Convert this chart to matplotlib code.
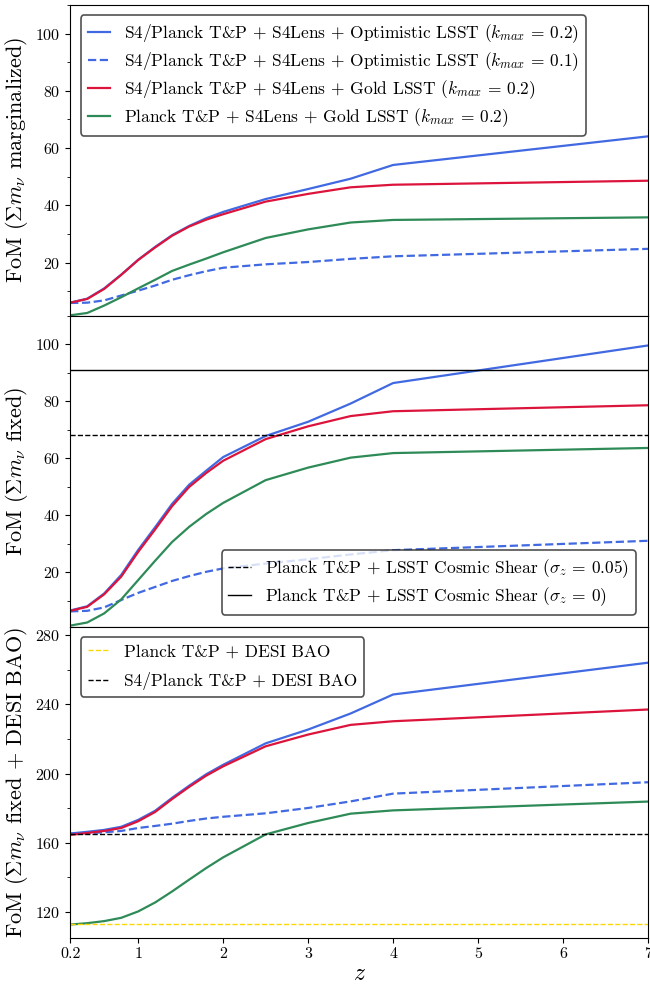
import numpy as np
import matplotlib
matplotlib.use("Agg")
import matplotlib.pyplot as plt
from matplotlib.ticker import AutoMinorLocator

plt.rcParams['font.family'] = 'serif'
plt.rcParams['font.serif'] = ['cmr10']
plt.rcParams['mathtext.fontset'] = 'cm'
plt.rcParams['axes.formatter.use_mathtext'] = True
plt.rcParams['axes.unicode_minus'] = False

z = [0.2, 0.4, 0.6, 0.8, 1.0, 1.2, 1.4, 1.6, 1.8, 2.0, 2.5, 3.0, 3.5, 4.0, 7.0]

# FoM, sum m_nu marginalized
marg_opt02 = [6.0, 7.4, 11.0, 15.8, 21.0, 25.5, 29.6, 32.8, 35.5, 37.7, 42.2, 45.7, 49.3, 54.1, 64.1]
marg_opt01 = [5.9, 6.0, 6.8, 8.5, 10.2, 12.0, 14.0, 15.6, 17.0, 18.2, 19.4, 20.2, 21.3, 22.2, 24.8]
marg_gold = [6.0, 7.3, 10.8, 15.7, 20.9, 25.3, 29.4, 32.6, 35.0, 36.9, 41.3, 44.0, 46.3, 47.2, 48.6]
marg_planck = [1.6, 2.4, 5.0, 7.9, 11.0, 14.0, 17.1, 19.3, 21.4, 23.6, 28.6, 31.6, 34.0, 34.9, 35.8]

# FoM, sum m_nu fixed
fix_opt02 = [6.5, 8.0, 12.5, 19.0, 27.8, 35.8, 44.0, 50.7, 55.6, 60.4, 67.8, 72.8, 79.2, 86.4, 99.6]
fix_opt01 = [6.2, 6.4, 7.6, 10.2, 12.7, 14.8, 16.9, 18.6, 20.1, 21.3, 23.0, 24.5, 26.2, 27.7, 31.0]
fix_gold = [6.4, 7.8, 12.2, 18.4, 27.1, 35.0, 43.2, 49.9, 54.8, 59.1, 66.7, 71.2, 74.8, 76.5, 78.6]
fix_planck = [1.2, 2.3, 5.5, 10.4, 17.2, 24.0, 30.6, 35.9, 40.4, 44.3, 52.3, 56.7, 60.2, 61.8, 63.6]
shear_sz005 = 68.0
shear_sz0 = 91.0

# FoM, sum m_nu fixed + DESI BAO
bao_opt02 = [165.3, 166.3, 167.4, 169.2, 173.2, 178.5, 186.0, 193.0, 199.6, 205.1, 217.5, 225.5, 234.8, 245.8, 264.2]
bao_opt01 = [165.3, 165.5, 166.0, 166.8, 168.5, 169.7, 171.0, 172.6, 174.0, 175.0, 177.0, 180.1, 183.9, 188.4, 195.0]
bao_gold = [164.5, 165.6, 166.8, 168.5, 172.4, 177.8, 185.3, 192.3, 198.8, 204.2, 215.8, 222.6, 228.2, 230.3, 237.1]
bao_planck = [112.6, 113.4, 114.6, 116.5, 120.2, 125.4, 131.8, 138.6, 145.3, 151.5, 164.8, 171.4, 176.8, 178.7, 183.8]
planck_desi = 113.0
s4_desi = 165.0

xticks = [0.2, 1, 2, 3, 4, 5, 6, 7]
xticklabels = ['0.2', '1', '2', '3', '4', '5', '6', '7']

labels = [r'S4/Planck T&P + S4Lens + Optimistic LSST ($k_{max}\,=\,0.2$)',
          r'S4/Planck T&P + S4Lens + Optimistic LSST ($k_{max}\,=\,0.1$)',
          r'S4/Planck T&P + S4Lens + Gold LSST ($k_{max}\,=\,0.2$)',
          r'Planck T&P + S4Lens + Gold LSST ($k_{max}\,=\,0.2$)']

blue = 'royalblue'
red = 'crimson'
green = 'seagreen'
lw = 1.6
fs = 12.5


def curves(ax, a, b, c, d, lab=True):
    ax.plot(z, a, color=blue, lw=lw, label=labels[0] if lab else None)
    ax.plot(z, b, color=blue, lw=lw, ls='--', label=labels[1] if lab else None)
    ax.plot(z, c, color=red, lw=lw, label=labels[2] if lab else None)
    ax.plot(z, d, color=green, lw=lw, label=labels[3] if lab else None)


def style(ax, ylabel):
    ax.set_xlim(0.2, 7)
    ax.set_xticks(xticks)
    ax.yaxis.set_minor_locator(AutoMinorLocator(2))
    ax.tick_params(labelsize=11.5)
    ax.set_ylabel(ylabel, fontsize=16)


def frame(leg):
    leg.get_frame().set_edgecolor('0.15')
    leg.get_frame().set_linewidth(1.2)


fig = plt.figure(figsize=(6.5, 9.86), dpi=100)
fig.subplots_adjust(left=0.108, right=0.997, top=0.995, bottom=0.049, hspace=0)

ax1 = plt.subplot(3, 1, 1)
ax2 = plt.subplot(3, 1, 2, sharex=ax1)
ax3 = plt.subplot(3, 1, 3, sharex=ax1)

curves(ax1, marg_opt02, marg_opt01, marg_gold, marg_planck)
style(ax1, r'FoM ($\Sigma m_\nu$ marginalized)')
ax1.set_ylim(1.4, 110)
ax1.set_yticks([20, 40, 60, 80, 100])
ax1.tick_params(axis='x', bottom=False, labelbottom=False)
frame(ax1.legend(loc='upper left', fontsize=fs, handlelength=1.3,
                 labelspacing=0.3, framealpha=0.8, borderaxespad=0.6))

curves(ax2, fix_opt02, fix_opt01, fix_gold, fix_planck, lab=False)
h1 = ax2.axhline(shear_sz005, color='k', lw=1, ls='--',
                 label=r'Planck T&P + LSST Cosmic Shear ($\sigma_z\,=\,0.05$)')
h2 = ax2.axhline(shear_sz0, color='k', lw=1,
                 label=r'Planck T&P + LSST Cosmic Shear ($\sigma_z\,=\,0$)')
style(ax2, r'FoM ($\Sigma m_\nu$ fixed)')
ax2.set_ylim(0.8, 110)
ax2.set_yticks([20, 40, 60, 80, 100])
ax2.tick_params(axis='x', bottom=False, labelbottom=False)
frame(ax2.legend(handles=[h1, h2], loc='lower right', fontsize=fs,
                 handlelength=1.3, labelspacing=0.3, framealpha=0.8,
                 borderaxespad=0.7))

curves(ax3, bao_opt02, bao_opt01, bao_gold, bao_planck, lab=False)
h3 = ax3.axhline(planck_desi, color='gold', lw=1, ls='--',
                 label='Planck T&P + DESI BAO')
h4 = ax3.axhline(s4_desi, color='k', lw=1, ls='--',
                 label='S4/Planck T&P + DESI BAO')
style(ax3, r'FoM ($\Sigma m_\nu$ fixed + DESI BAO)')
ax3.set_ylim(105, 285)
ax3.set_yticks([120, 160, 200, 240, 280])
ax3.set_xticklabels(xticklabels)
ax3.set_xlabel(r'$z$', fontsize=17, labelpad=1)
frame(ax3.legend(handles=[h3, h4], loc='upper left', fontsize=fs,
                 handlelength=1.3, labelspacing=0.7, framealpha=0.8,
                 borderaxespad=0.6))

fig.savefig('out.png', dpi=100)
